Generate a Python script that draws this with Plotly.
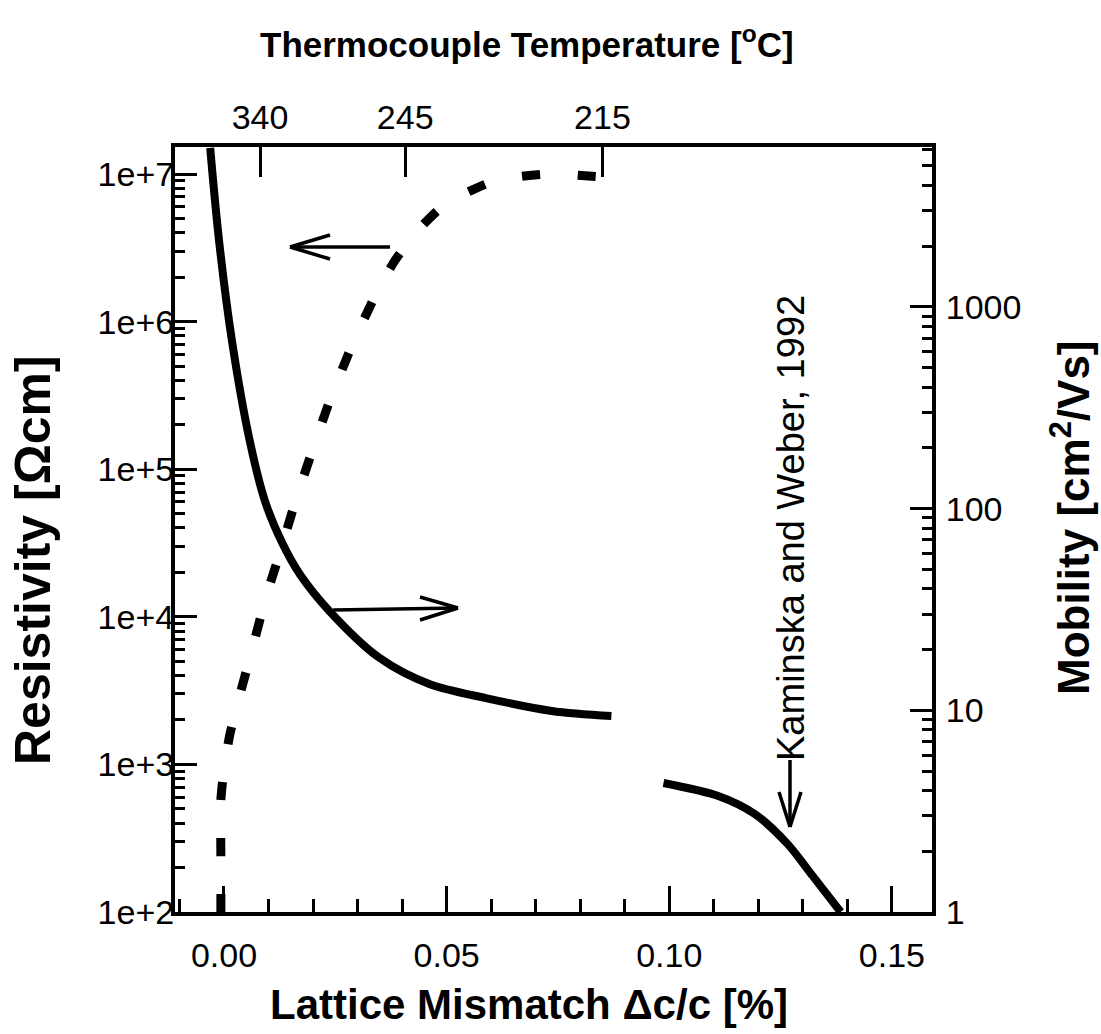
import plotly.graph_objects as go

# ---------------- data ----------------
# Resistivity (dashed curve, left axis)
rho_x = [-0.0007, -0.0007, -0.0007, 0.0, 0.0013, 0.0031, 0.0063, 0.0096, 0.0123,
         0.0159, 0.0197, 0.0237, 0.0284, 0.0338, 0.0383, 0.0438, 0.0499, 0.0562,
         0.0613, 0.0727, 0.0850]
rho_val = [100, 225, 575, 918, 1585, 2620, 5980, 14160, 25590, 58600, 130000,
           288400, 650000, 1466000, 2570000, 4236000, 6353000, 7907000, 9100000,
           10000000, 9550000]

# Mobility, this work (solid curve, right axis)
mob_x = [-0.0031, -0.0011, 0.0018, 0.0058, 0.0092, 0.0132, 0.0170, 0.0237,
         0.0349, 0.0461, 0.0588, 0.0736, 0.0870]
mob_val = [6140, 2123, 677, 216, 109, 66.7, 47.4, 31.0, 18.2, 13.5, 11.5, 9.93, 9.37]

# Mobility, Kaminska and Weber 1992 (solid curve, right axis)
kw_x = [0.0987, 0.1110, 0.1192, 0.1266, 0.1322, 0.1385]
kw_val = [4.36, 3.76, 3.06, 2.17, 1.51, 1.0]

# Axis ticks
x_ticks = [0.00, 0.05, 0.10, 0.15]
x_ticktext = ["0.00", "0.05", "0.10", "0.15"]
top_ticks = [0.0081, 0.0407, 0.0850]
top_ticktext = ["340", "245", "215"]
rho_ticks = [1e2, 1e3, 1e4, 1e5, 1e6, 1e7]
rho_ticktext = ["1e+2", "1e+3", "1e+4", "1e+5", "1e+6", "1e+7"]
mob_ticks = [1, 10, 100, 1000]
mob_ticktext = ["1", "10", "100", "1000"]

# ---------------- figure ----------------
FONT = "Liberation Sans, Arial, sans-serif"
L, R, T, B = 175, 169, 147, 122
W, H = 1101, 1034
PW, PH = W - L - R, H - T - B

fig = go.Figure()
fig.add_trace(go.Scatter(x=rho_x, y=rho_val, xaxis="x", yaxis="y", mode="lines",
                         line=dict(color="black", width=9, dash="18px,38px", shape="spline", smoothing=0.6),
                         name="Resistivity", showlegend=False))
fig.add_trace(go.Scatter(x=mob_x, y=mob_val, xaxis="x", yaxis="y2", mode="lines",
                         line=dict(color="black", width=8, shape="spline", smoothing=0.9),
                         name="Mobility", showlegend=False))
fig.add_trace(go.Scatter(x=kw_x, y=kw_val, xaxis="x", yaxis="y2", mode="lines",
                         line=dict(color="black", width=8, shape="spline", smoothing=0.8),
                         name="Kaminska and Weber, 1992", showlegend=False))
# carrier for the top (temperature) axis
fig.add_trace(go.Scatter(x=top_ticks, y=[1e7] * len(top_ticks), xaxis="x2", yaxis="y",
                         mode="markers", marker=dict(opacity=0), hoverinfo="skip",
                         showlegend=False))

xr = [-0.011, 0.159]
tickfont = dict(family=FONT, size=34, color="black")
axline = dict(showline=True, linecolor="black", linewidth=4, showgrid=False, zeroline=False)

fig.update_layout(
    width=W, height=H,
    margin=dict(l=L, r=R, t=T, b=B),
    paper_bgcolor="white", plot_bgcolor="white",
    xaxis=dict(range=xr, tickvals=x_ticks, ticktext=x_ticktext, ticks="inside",
               ticklen=26, tickwidth=3, tickcolor="black", tickfont=tickfont,
               ticklabelstandoff=10,
               minor=dict(dtick=0.01, tick0=0, ticks="inside", ticklen=13, tickwidth=3, tickcolor="black"),
               anchor="y", side="bottom", **axline),
    xaxis2=dict(range=xr, overlaying="x", side="top", anchor="y",
                tickvals=top_ticks, ticktext=top_ticktext, ticks="inside",
                ticklen=30, tickwidth=3, tickcolor="black", tickfont=tickfont,
                ticklabelstandoff=0, **axline),
    yaxis=dict(type="log", range=[2, 7.183], tickvals=rho_ticks, ticktext=rho_ticktext,
               ticks="inside", ticklen=22, tickwidth=3, tickcolor="black", tickfont=tickfont,
               ticklabelstandoff=-10,
               minor=dict(dtick="D1", ticks="inside", ticklen=10, tickwidth=3, tickcolor="black"),
               anchor="x", side="left", **axline),
    yaxis2=dict(type="log", range=[0, 3.793], tickvals=mob_ticks, ticktext=mob_ticktext,
                ticks="inside", ticklen=22, tickwidth=3, tickcolor="black", tickfont=tickfont,
                ticklabelstandoff=3,
                minor=dict(dtick="D1", ticks="inside", ticklen=10, tickwidth=3, tickcolor="black"),
                overlaying="y", anchor="x", side="right", **axline),
)

def px2paper(px, py):
    return (px - L) / PW, (H - B - py) / PH

annos = []
tx, ty = px2paper(527, 42)
annos.append(dict(x=tx, y=ty, text="<b>Thermocouple Temperature [<sup>o</sup>C]</b>",
                  font=dict(family=FONT, size=35, color="black")))
tx, ty = px2paper(529, 1004)
annos.append(dict(x=tx, y=ty, text="<b>Lattice Mismatch \u0394c/c [%]</b>",
                  font=dict(family=FONT, size=42, color="black")))
tx, ty = px2paper(33, 560)
annos.append(dict(x=tx, y=ty, text="<b>Resistivity [\u03a9cm]</b>", textangle=-90,
                  font=dict(family=FONT, size=50, color="black")))
tx, ty = px2paper(1070, 518)
annos.append(dict(x=tx, y=ty, text="<b>Mobility [cm<sup>2</sup>/Vs]</b>", textangle=-90,
                  font=dict(family=FONT, size=44, color="black")))
tx, ty = px2paper(791, 528)
annos.append(dict(x=tx, y=ty, text="Kaminska and Weber, 1992", textangle=-90,
                  font=dict(family=FONT, size=38, color="black")))
for a in annos:
    a.update(xref="paper", yref="paper", showarrow=False, xanchor="center", yanchor="middle")

# arrows drawn as open-headed line shapes: (tail px, head px, barb ends px)
arrows = [
    ((390, 247), (290, 247), [(330, 235), (330, 259)]),
    ((333, 610), (458, 608), [(420, 597), (420, 620)]),
    ((790, 760), (790, 827), [(779, 792), (801, 792)]),
]
shapes = []
for tail, head, barbs in arrows:
    for p0 in [tail] + barbs:
        x0, y0 = px2paper(*p0)
        x1, y1 = px2paper(*head)
        shapes.append(dict(type="line", xref="paper", yref="paper", x0=x0, y0=y0, x1=x1, y1=y1,
                           line=dict(color="black", width=3.5)))

fig.update_layout(annotations=annos, shapes=shapes)
fig.write_html("out.html")
